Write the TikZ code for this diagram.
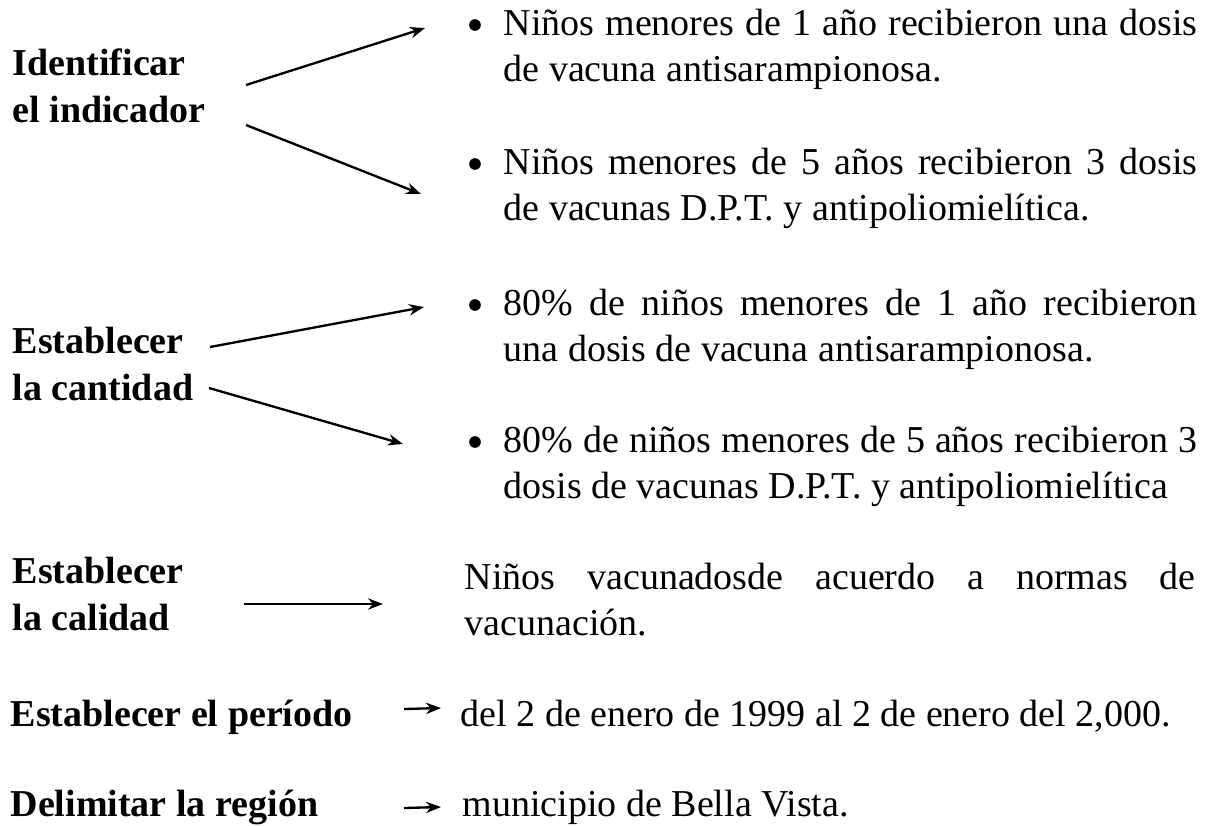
\documentclass[tikz,border=0pt]{standalone}
\usepackage{fontspec}
\setmainfont{Liberation Serif}
\usepackage{tikz}
\usetikzlibrary{arrows.meta}
\newcommand{\txtsize}{\fontsize{11.4}{14}\selectfont}
\tikzset{
  stage/.style={
    anchor=base west,
    inner sep=0pt,
    align=left,
    font=\txtsize\bfseries
  },
  item/.style={
    anchor=base west,
    inner sep=0pt,
    text width=208.2pt,
    align=justify,
    font=\txtsize
  },
  plain/.style={
    anchor=base west,
    inner sep=0pt,
    font=\txtsize
  },
  dot/.style={
    circle,
    fill,
    inner sep=0pt,
    minimum size=3.5pt
  },
  link/.style={-{Stealth[length=4.5pt,width=3.4pt]},line width=0.7pt}
}

\begin{document}
\begin{tikzpicture}[x=0.3pt,y=-0.3pt]
  \useasboundingbox (0,0) rectangle (1208,825);
  \node[stage] (ind) at (12,122) {Identificar\\el indicador};
  \node[stage] (cant) at (12,400) {Establecer\\la cantidad};
  \node[stage] (cal) at (12,630) {Establecer\\la calidad};
  \node[stage] (per) at (10,726) {Establecer el período};
  \node[stage] (reg) at (10,816) {Delimitar la región};

  \node[dot] (d1) at (475,25) {};
  \node[item] (i1) at (503,35) {Niños menores de 1 año recibieron una dosis\linebreak
    de vacuna antisarampionosa.};
  \node[dot] (d2) at (475,164) {};
  \node[item] (i2) at (503,174) {Niños menores de 5 años recibieron 3 dosis\linebreak
    de vacunas D.P.T. y antipoliomielítica.};
  \node[dot] (d3) at (475,305) {};
  \node[item] (i3) at (503,315) {80\% de niños menores de 1 año recibieron\linebreak
    una dosis de vacuna antisarampionosa.};
  \node[dot] (d4) at (475,442) {};
  \node[item] (i4) at (503,452) {80\% de niños menores de 5 años recibieron 3\linebreak
    dosis de vacunas D.P.T. y antipoliomielítica};
  \node[item,text width=219.3pt] (qual) at (464,589) {Niños vacunadosde acuerdo a normas de\linebreak
    vacunación.};
  \node[plain] (dates) at (460,726) {del 2 de enero de 1999 al 2 de enero del 2,000.};
  \node[plain] (town) at (462,816) {municipio de Bella Vista.};

  \coordinate (s1) at (246,85);  \coordinate (e1) at (425,28);
  \coordinate (s2) at (246,125); \coordinate (e2) at (421,194);
  \coordinate (s3) at (210,347); \coordinate (e3) at (424,307);
  \coordinate (s4) at (209,388); \coordinate (e4) at (403,444);
  \coordinate (s5) at (244,604); \coordinate (e5) at (383,604);
  \coordinate (s6) at (404,709); \coordinate (e6) at (441,708);
  \coordinate (s7) at (404,808); \coordinate (e7) at (441,807);
  \draw[link] (s1) -- (e1);
  \draw[link] (s2) -- (e2);
  \draw[link] (s3) -- (e3);
  \draw[link] (s4) -- (e4);
  \draw[link] (s5) -- (e5);
  \draw[link] (s6) -- (e6);
  \draw[link] (s7) -- (e7);
\end{tikzpicture}
\end{document}
